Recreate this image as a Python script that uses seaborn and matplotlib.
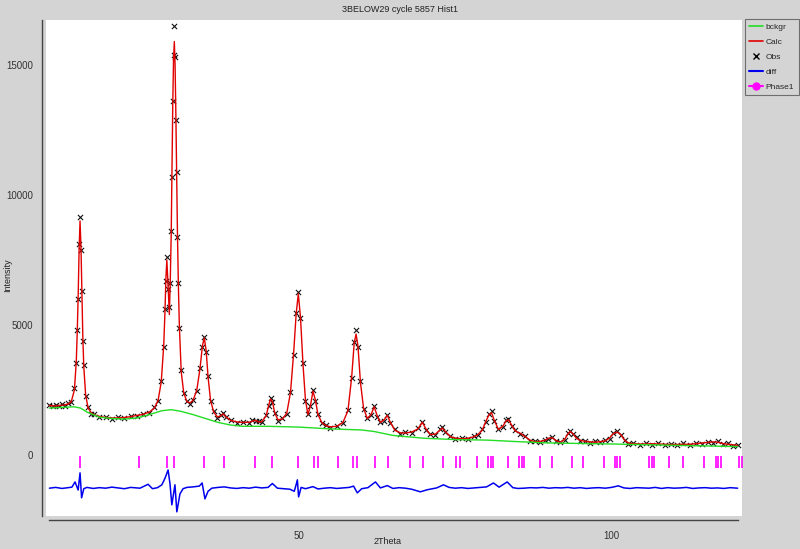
import numpy as np
import pandas as pd
import matplotlib
matplotlib.use("Agg")
import matplotlib.pyplot as plt
from matplotlib.lines import Line2D
from matplotlib.ticker import MultipleLocator
import seaborn as sns

tth = [10.0, 10.5, 11.0, 11.5, 12.0, 12.5, 13.0, 13.5, 14.0, 14.3,
       14.45, 14.6, 14.75, 14.9, 15.05, 15.2, 15.35, 15.5, 15.8, 16.2,
       16.7, 17.2, 18.0, 19.0, 20.0, 21.0, 22.0, 23.0, 24.0, 25.0,
       26.0, 26.8, 27.4, 27.9, 28.3, 28.5, 28.65, 28.8, 29.0, 29.2,
       29.35, 29.5, 29.62, 29.75, 29.87, 30.0, 30.12, 30.25, 30.37, 30.5,
       30.65, 30.8, 31.1, 31.5, 32.0, 32.5, 33.0, 33.6, 34.1, 34.5,
       34.8, 35.1, 35.4, 35.8, 36.3, 36.9, 37.4, 37.8, 38.2, 39.0,
       40.0, 41.0, 42.0, 42.5, 43.0, 43.5, 44.0, 44.7, 45.1, 45.4,
       45.7, 46.1, 46.6, 47.3, 48.0, 48.6, 49.1, 49.5, 49.85, 50.2,
       50.6, 51.0, 51.4, 51.8, 52.2, 52.6, 53.0, 53.6, 54.3, 55.0,
       56.0, 57.0, 57.8, 58.4, 58.8, 59.1, 59.4, 59.8, 60.3, 60.9,
       61.5, 62.0, 62.5, 63.0, 63.6, 64.1, 64.6, 65.3, 66.2, 67.0,
       68.0, 69.0, 69.7, 70.3, 71.0, 71.8, 72.5, 72.9, 73.4, 74.2,
       75.0, 76.0, 77.0, 78.0, 78.6, 79.3, 79.9, 80.4, 80.8, 81.2,
       81.9, 82.6, 83.1, 83.5, 84.0, 84.6, 85.4, 86.2, 87.0, 87.8,
       88.6, 89.3, 89.9, 90.5, 91.1, 91.8, 92.5, 93.0, 93.4, 93.8,
       94.4, 95.0, 95.8, 96.6, 97.4, 98.2, 99.0, 99.7, 100.3, 100.9,
       101.5, 102.1, 102.7, 103.5, 104.5, 105.5, 106.5, 107.5, 108.5, 109.5,
       110.5, 111.5, 112.5, 113.5, 114.5, 115.5, 116.3, 117.0, 117.8, 118.6,
       119.4, 120.2]

calc = [1900, 1890, 1880, 1900, 1910, 1930, 1960, 2050, 2500, 3600,
        4700, 6100, 7900, 9000, 8000, 6200, 4500, 3400, 2300, 1800,
        1620, 1540, 1480, 1440, 1420, 1420, 1440, 1470, 1520, 1560,
        1650, 1800, 2100, 2800, 4200, 5500, 6800, 7500, 6500, 5400,
        6700, 8500, 10800, 13500, 15200, 15900, 15000, 13000, 10800, 8500,
        6500, 5000, 3200, 2400, 2050, 2000, 2100, 2500, 3300, 4200,
        4500, 4000, 3000, 2100, 1650, 1460, 1500, 1580, 1480, 1330,
        1270, 1250, 1260, 1300, 1330, 1270, 1280, 1500, 1900, 2150,
        2050, 1600, 1350, 1380, 1600, 2400, 3900, 5400, 6200, 5300,
        3500, 2100, 1550, 1900, 2450, 2100, 1550, 1250, 1120, 1080,
        1100, 1250, 1700, 3000, 4300, 4650, 4200, 2800, 1800, 1400,
        1550, 1850, 1500, 1250, 1350, 1520, 1250, 950, 850, 840,
        880, 1000, 1250, 1000, 780, 800, 950, 1030, 900, 700,
        650, 620, 640, 700, 780, 950, 1300, 1550, 1620, 1350,
        980, 1100, 1300, 1350, 1150, 920, 830, 700, 560, 510,
        520, 560, 640, 660, 560, 480, 600, 800, 900, 820,
        640, 560, 520, 500, 490, 510, 540, 650, 820, 880,
        780, 560, 460, 430, 420, 420, 430, 420, 410, 400,
        400, 410, 410, 430, 460, 480, 500, 490, 440, 410,
        390, 370]

obs = [1930, 1870, 1910, 1880, 1940, 1900, 1990, 2020, 2560, 3550,
       4800, 6000, 8100, 9150, 7900, 6300, 4400, 3450, 2250, 1830,
       1590, 1570, 1450, 1470, 1400, 1450, 1410, 1500, 1490, 1590,
       1620, 1830, 2070, 2850, 4150, 5600, 6700, 7600, 6400, 5700,
       6600, 8600, 10700, 13600, 15400, 16500, 15300, 12900, 10900, 8400,
       6600, 4900, 3250, 2370, 2080, 1970, 2130, 2470, 3350, 4150,
       4550, 3950, 3050, 2070, 1680, 1430, 1530, 1600, 1450, 1360,
       1240, 1280, 1230, 1330, 1300, 1290, 1250, 1530, 1870, 2180,
       2020, 1630, 1320, 1410, 1570, 2430, 3850, 5450, 6280, 5250,
       3550, 2070, 1580, 1870, 2480, 2070, 1580, 1220, 1150, 1050,
       1130, 1220, 1730, 2950, 4350, 4800, 4150, 2850, 1770, 1430,
       1520, 1880, 1470, 1280, 1320, 1550, 1220, 980, 820, 870,
       850, 1030, 1280, 970, 810, 770, 980, 1060, 870, 730,
       620, 650, 610, 730, 750, 980, 1270, 1580, 1700, 1320,
       1010, 1070, 1330, 1380, 1120, 950, 800, 730, 530, 540,
       490, 590, 610, 690, 530, 510, 570, 830, 930, 790,
       670, 530, 550, 470, 520, 480, 570, 620, 850, 910,
       750, 590, 430, 460, 390, 450, 400, 460, 380, 430,
       370, 440, 380, 460, 430, 510, 470, 520, 410, 440,
       360, 400]

# background curve
bg_tth = [10, 12, 14, 15, 16, 18, 20, 22, 24, 26, 28, 29.5, 31, 33, 35, 37,
          39, 41, 45, 50, 55, 60, 62, 65, 70, 75, 80, 85, 90, 100, 110, 120.2]
bg_int = [1800, 1830, 1850, 1800, 1650, 1450, 1400, 1380, 1420, 1550, 1700, 1740,
          1680, 1550, 1400, 1250, 1150, 1100, 1100, 1070, 1000, 960, 900, 750,
          640, 590, 570, 510, 460, 420, 370, 320]

# difference curve (offset below zero)
diff_tth = [10.0, 11.0, 12.0, 13.0, 13.6, 14.1, 14.6, 14.9, 15.15, 15.5,
            16.0, 17.0, 18.0, 19.0, 20.0, 21.0, 22.0, 23.0, 24.5, 25.8,
            26.5, 27.3, 28.0, 28.5, 29.0, 29.3, 29.6, 30.1, 30.4, 30.9,
            31.4, 32.0, 33.0, 34.0, 34.45, 34.9, 35.4, 36.0, 37.0, 38.0,
            39.0, 40.0, 41.0, 42.0, 43.0, 44.0, 45.0, 45.7, 46.5, 47.5,
            48.5, 49.2, 49.5, 49.7, 49.9, 50.3, 51.0, 52.2, 53.0, 54.0,
            55.0, 56.0, 57.0, 58.0, 58.7, 59.3, 60.0, 61.0, 62.2, 63.0,
            64.1, 65.0, 66.0, 67.0, 68.0, 69.4, 70.5, 72.0, 73.1, 74.0,
            75.0, 76.0, 77.0, 78.0, 79.0, 80.0, 81.1, 82.0, 83.3, 84.2,
            85.0, 86.0, 87.0, 88.0, 89.0, 90.0, 91.0, 92.0, 93.0, 94.0,
            95.0, 96.0, 97.0, 98.0, 99.0, 100.0, 101.1, 102.0, 103.0, 104.0,
            105.0, 106.0, 107.0, 108.0, 109.0, 110.0, 111.0, 112.0, 113.0, 114.0,
            115.0, 116.0, 117.0, 118.0, 119.0, 120.2]
diff_int = [-1280, -1250, -1290, -1260, -1240, -1040, -1350, -690, -1650, -1300,
            -1250, -1290, -1260, -1280, -1240, -1270, -1300, -1250, -1280, -1130,
            -1300, -1260, -1150, -900, -580, -1100, -1920, -1150, -2190, -1500,
            -1300, -1250, -1230, -1200, -1080, -1690, -1400, -1280, -1250, -1230,
            -1270, -1290, -1260, -1280, -1240, -1270, -1250, -1100, -1280, -1300,
            -1320, -1400, -1150, -960, -1615, -1250, -1300, -1220, -1310, -1280,
            -1260, -1290, -1270, -1250, -1200, -1460, -1300, -1260, -1040, -1270,
            -1180, -1290, -1260, -1280, -1320, -1420, -1340, -1270, -1150, -1250,
            -1280, -1260, -1290, -1270, -1250, -1230, -1080, -1240, -1040, -1260,
            -1290, -1280, -1260, -1270, -1250, -1280, -1260, -1270, -1250, -1280,
            -1260, -1290, -1270, -1260, -1280, -1250, -1190, -1270, -1290, -1260,
            -1270, -1280, -1250, -1290, -1260, -1280, -1270, -1250, -1290, -1270,
            -1260, -1280, -1270, -1290, -1260, -1280]

# Phase1 reflection positions
refl = [14.90, 24.36, 28.85, 29.97, 34.78, 37.98, 42.95, 45.67, 49.84, 52.40,
        53.04, 56.25, 58.65, 59.29, 62.18, 64.26, 67.79, 69.87, 73.08, 75.16,
        75.80, 78.53, 80.29, 80.77, 81.09, 83.49, 85.26, 85.74, 86.06, 88.62,
        90.54, 93.75, 95.51, 98.88, 100.64, 100.96, 101.44, 105.93, 106.41, 106.73,
        109.29, 111.38, 114.74, 116.67, 116.99, 117.47, 120.35, 120.83]
refl_level = -280

assert len(tth) == len(calc) == len(obs)
assert len(diff_tth) == len(diff_int)
assert len(bg_tth) == len(bg_int)

prof = pd.DataFrame({"tth": tth, "calc": calc, "obs": obs})
bg = pd.DataFrame({"tth": bg_tth, "bg": bg_int})
dif = pd.DataFrame({"tth": diff_tth, "diff": diff_int})
ticks = pd.DataFrame({"tth": refl, "y": [refl_level] * len(refl)})

sns.set_style("white")
plt.rcParams["font.family"] = ["Liberation Sans", "DejaVu Sans"]

grey = "#d4d4d4"
fig = plt.figure(figsize=(8, 5.49), dpi=100, facecolor=grey)
ax = fig.add_axes([46 / 800, 1 - 516 / 549, 696 / 800, 496 / 549])
ax.set_facecolor("white")

sns.scatterplot(data=prof, x="tth", y="obs", marker="x", color="#111111",
                s=14, linewidth=0.8, ax=ax, zorder=2)
sns.lineplot(data=prof, x="tth", y="calc", color="#e00000", linewidth=1.0,
             sort=False, estimator=None, ax=ax, zorder=3)
sns.lineplot(data=bg, x="tth", y="bg", color="#22dd22", linewidth=1.0,
             sort=False, estimator=None, ax=ax, zorder=4)
sns.lineplot(data=dif, x="tth", y="diff", color="#0000ee", linewidth=1.1,
             sort=False, estimator=None, ax=ax, zorder=3)
sns.scatterplot(data=ticks, x="tth", y="y", marker="|", color="#ff00ff",
                s=80, linewidth=1.2, ax=ax, zorder=3)

ax.set_xlim(9.45, 120.9)
ax.set_ylim(-2350, 16730)
ax.xaxis.set_major_locator(MultipleLocator(50))
ax.xaxis.set_minor_locator(MultipleLocator(25))
ax.yaxis.set_major_locator(MultipleLocator(5000))
ax.yaxis.set_minor_locator(MultipleLocator(2500))
ax.tick_params(axis="both", which="both", direction="out", labelsize=7,
               colors="#333333", width=0.8)
ax.tick_params(which="major", length=4)
ax.tick_params(which="minor", length=3)
ax.tick_params(axis="y", pad=2)
ax.set_xlabel("")
ax.set_ylabel("")

for side in ["top", "right"]:
    ax.spines[side].set_visible(False)
for side in ["left", "bottom"]:
    ax.spines[side].set_position(("outward", 3))
    ax.spines[side].set_color("#444444")
    ax.spines[side].set_linewidth(1.0)
ax.spines["bottom"].set_bounds(10.0, 120.3)

fig.text(400 / 800, 1 - 10 / 549, "3BELOW29 cycle 5857 Hist1", ha="center",
         va="center", fontsize=6.5, color="#222222")
fig.text(8 / 800, 1 - 275 / 549, "Intensity", rotation=90, ha="center",
         va="center", fontsize=6.5, color="#222222")
fig.text(388 / 800, 1 - 541 / 549, "2Theta", ha="center", va="center",
         fontsize=6.5, color="#222222")

handles = [
    Line2D([], [], color="#22dd22", lw=1.2),
    Line2D([], [], color="#e00000", lw=1.2),
    Line2D([], [], color="black", lw=0, marker="x", markersize=4),
    Line2D([], [], color="#0000ee", lw=1.5),
    Line2D([], [], color="#ff00ff", lw=1.5, marker="o", markersize=5),
]
labels = ["bckgr", "Calc", "Obs", "diff", "Phase1"]
leg = fig.legend(handles, labels, loc="upper left",
                 bbox_to_anchor=(745 / 800, 1 - 19 / 549), fontsize=6,
                 frameon=True, fancybox=False, handlelength=1.7,
                 handletextpad=0.3, borderpad=0.5, labelspacing=0.85,
                 borderaxespad=0)
leg.get_frame().set_facecolor(grey)
leg.get_frame().set_edgecolor("#555555")
leg.get_frame().set_linewidth(0.8)

fig.savefig("out.png", dpi=100, facecolor=grey)
